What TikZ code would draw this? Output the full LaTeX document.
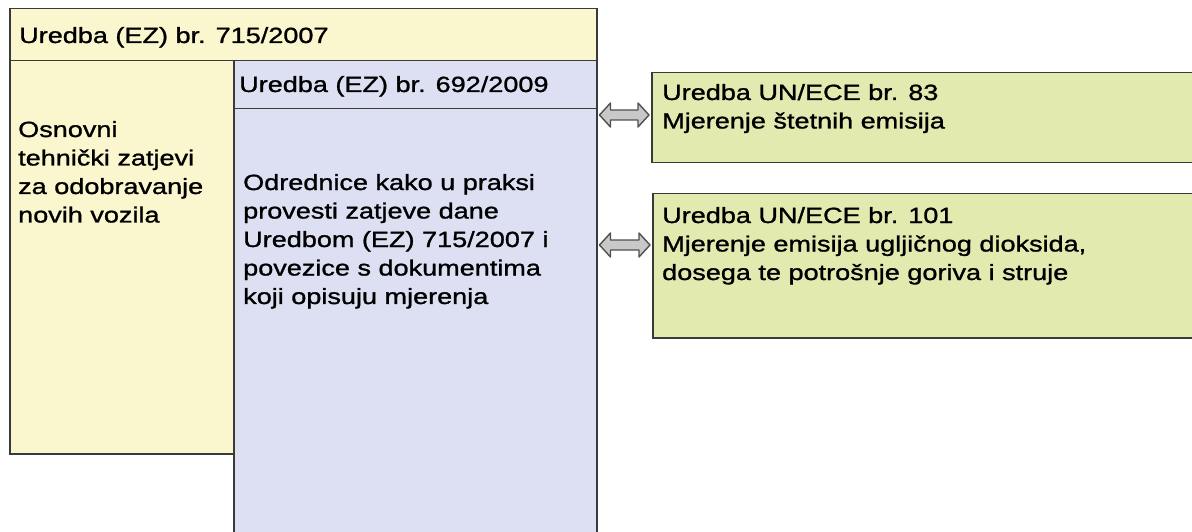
\documentclass[tikz,border=0pt]{standalone}
\usepackage{fontspec}
\setmainfont{Liberation Sans}[FakeStretch=1.23,FakeBold=1.2]
\usetikzlibrary{calc}
\definecolor{yel}{HTML}{FAF7CE}
\definecolor{blu}{HTML}{DCE0F2}
\definecolor{grn}{HTML}{E3EAB0}
\definecolor{edge}{HTML}{3A3A3A}
\definecolor{arrfill}{HTML}{C8C8C8}
\definecolor{arredge}{HTML}{505050}
\newcommand\txtlines[1]{\vtop{\halign{##\hfil\cr#1\crcr}}}
\tikzset{
  panel/.style={draw=edge, line width=1.5pt, inner sep=0pt, anchor=north west},
  label/.style={inner sep=0pt, anchor=base west, font=\fontsize{22}{28.5}\selectfont, text=black},
  blockarrow/.style={draw=arredge, fill=arrfill, line width=1.4pt, line join=round,
    to path={let \p1=(\tikztostart), \p2=(\tikztotarget) in
      (\x1,\y1) -- (\x1+11pt,\y1+12pt) -- (\x1+11pt,\y1+5pt) -- (\x2-11pt,\y2+5pt)
      -- (\x2-11pt,\y2+12pt) -- (\x2,\y2) -- (\x2-11pt,\y2-12pt) -- (\x2-11pt,\y2-5pt)
      -- (\x1+11pt,\y1-5pt) -- (\x1+11pt,\y1-12pt) -- cycle}}
}
\begin{document}
\begin{tikzpicture}[x=1pt,y=-1pt]
\useasboundingbox (0,0) rectangle (1192,532);
\clip (0,0) rectangle (1192,532);
\fill[white] (0,0) rectangle (1192,532);
% yellow regulation 715/2007
\node[panel, fill=yel, minimum width=587pt, minimum height=52pt] (title) at (9,8) {};
\node[panel, fill=yel, minimum width=224pt, minimum height=393pt] (left) at (9,60) {};
% blue regulation 692/2009
\node[panel, fill=blu, minimum width=363pt, minimum height=48pt] (bhead) at (233,60) {};
\node[panel, fill=blu, minimum width=363pt, minimum height=440pt] (bbody) at (233,108) {};
% green UN/ECE boxes
\node[panel, fill=grn, minimum width=560pt, minimum height=90pt] (g1) at (651,72) {};
\node[panel, fill=grn, minimum width=560pt, minimum height=144pt] (g2) at (652,193) {};
% texts
\node[label] (ttitle) at (19,43) {Uredba (EZ) br. 715/2007};
\node[label] (tleft) at (18,137) {\txtlines{Osnovni\cr tehnički zatjevi\cr za odobravanje\cr novih vozila}};
\node[label] (tbhead) at (239,92) {Uredba (EZ) br. 692/2009};
\node[label] (tbbody) at (243,190) {\txtlines{Odrednice kako u praksi\cr provesti zatjeve dane\cr Uredbom (EZ) 715/2007 i\cr povezice s dokumentima\cr koji opisuju mjerenja}};
\node[label] (tg1) at (662,100) {\txtlines{Uredba UN/ECE br. 83\cr Mjerenje štetnih emisija}};
\node[label] (tg2) at (662,223) {\txtlines{Uredba UN/ECE br. 101\cr Mjerenje emisija ugljičnog dioksida,\cr dosega te potrošnje goriva i struje}};
% connectors
\path (bhead.east |- 0,115) coordinate (a1l) (g1.west |- 0,115) coordinate (a1r);
\path (bbody.east |- 0,245) coordinate (a2l) (g2.west |- 0,245) coordinate (a2r);
\draw[blockarrow] ($(a1l)+(2,0)$) to ($(a1r)+(-2,0)$);
\draw[blockarrow] ($(a2l)+(2,0)$) to ($(a2r)+(-2,0)$);
\end{tikzpicture}
\end{document}
